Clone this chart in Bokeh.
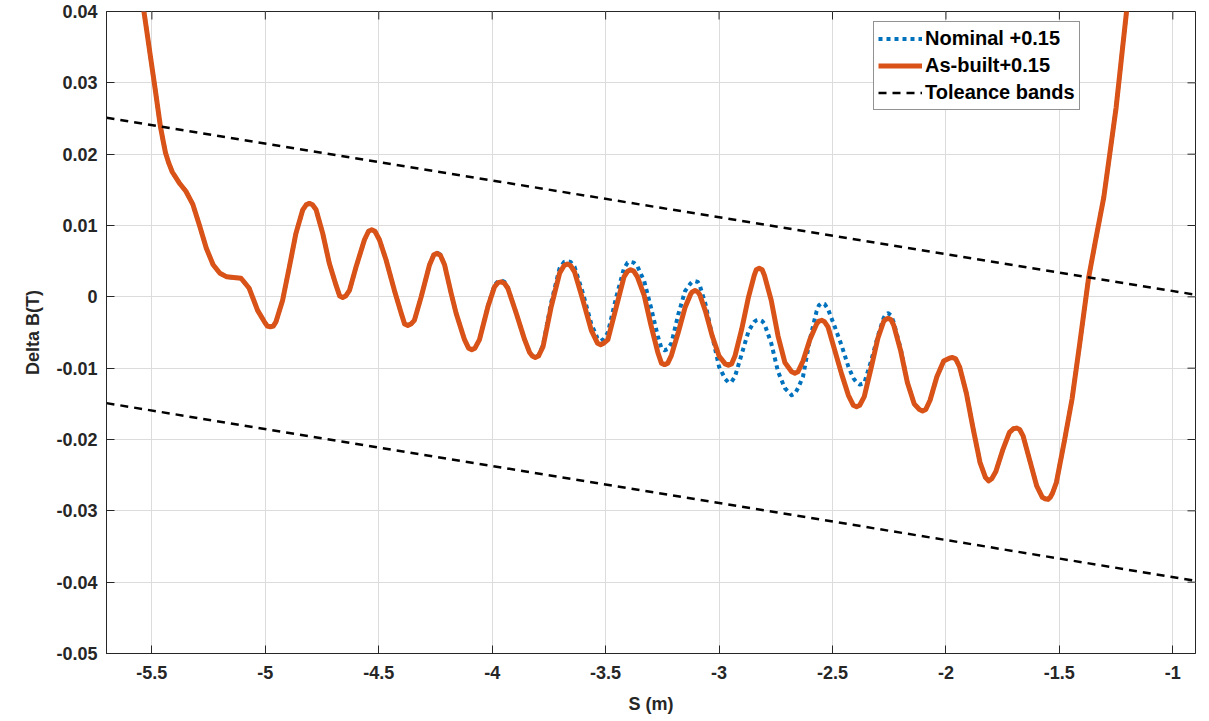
import math
from bokeh.plotting import figure
from bokeh.models import FixedTicker, Legend, LegendItem, CustomJSTickFormatter, Range1d
from bokeh.embed import file_html
from bokeh.resources import INLINE

# ---------------- data ----------------
s_m = [-5.560, -5.535, -5.510, -5.485, -5.462, -5.450, -5.440, -5.425, -5.410, -5.380,
       -5.350, -5.320, -5.290, -5.260, -5.230, -5.200, -5.170, -5.140, -5.107, -5.071,
       -5.034, -5.004, -4.991, -4.978, -4.965, -4.953, -4.924, -4.894, -4.865, -4.835,
       -4.820, -4.806, -4.792, -4.776, -4.747, -4.718, -4.688, -4.672, -4.659, -4.646,
       -4.629, -4.600, -4.563, -4.545, -4.531, -4.517, -4.497, -4.468, -4.431, -4.401,
       -4.386, -4.372, -4.358, -4.343, -4.313, -4.276, -4.257, -4.243, -4.228, -4.210,
       -4.181, -4.159, -4.122, -4.104, -4.090, -4.076, -4.056, -4.019, -3.990, -3.974,
       -3.960, -3.946, -3.931, -3.894, -3.857, -3.835, -3.823, -3.810, -3.796, -3.776,
       -3.740, -3.703, -3.683, -3.669, -3.655, -3.637, -3.600, -3.563, -3.536, -3.522,
       -3.508, -3.490, -3.453, -3.419, -3.403, -3.390, -3.376, -3.360, -3.330, -3.300,
       -3.270, -3.254, -3.240, -3.226, -3.210, -3.180, -3.150, -3.125, -3.118, -3.106,
       -3.094, -3.085, -3.060, -3.030, -3.000, -2.973, -2.959, -2.945, -2.930, -2.900,
       -2.870, -2.845, -2.836, -2.823, -2.810, -2.800, -2.770, -2.740, -2.710, -2.680,
       -2.666, -2.652, -2.630, -2.600, -2.570, -2.560, -2.548, -2.535, -2.520, -2.490,
       -2.460, -2.430, -2.408, -2.394, -2.380, -2.360, -2.330, -2.300, -2.275, -2.268,
       -2.255, -2.242, -2.230, -2.200, -2.170, -2.140, -2.117, -2.103, -2.089, -2.070,
       -2.040, -2.010, -1.985, -1.971, -1.957, -1.940, -1.910, -1.880, -1.850, -1.826,
       -1.812, -1.798, -1.780, -1.750, -1.720, -1.703, -1.689, -1.675, -1.660, -1.630,
       -1.600, -1.575, -1.563, -1.550, -1.540, -1.530, -1.513, -1.479, -1.444, -1.410,
       -1.371, -1.340, -1.304, -1.250, -1.204, -1.170]

asbuilt_T = [0.0470, 0.0400, 0.0345, 0.0290, 0.0238, 0.0218, 0.0202, 0.0187, 0.0175, 0.0160,
             0.0148, 0.0130, 0.0100, 0.0068, 0.0045, 0.0033, 0.0028, 0.0027, 0.0026, 0.0012,
             -0.0019, -0.0035, -0.0041, -0.0042, -0.0041, -0.0035, -0.0005, 0.0042, 0.0089, 0.0122,
             0.0129, 0.0131, 0.0129, 0.0122, 0.0089, 0.0047, 0.0016, 0.0001, -0.0001, 0.0001,
             0.0009, 0.0042, 0.0080, 0.0092, 0.0094, 0.0092, 0.0080, 0.0052, 0.0009, -0.0023,
             -0.0038, -0.0040, -0.0038, -0.0033, 0.0000, 0.0045, 0.0059, 0.0061, 0.0058, 0.0045,
             0.0005, -0.0023, -0.0060, -0.0072, -0.0074, -0.0072, -0.0060, -0.0014, 0.0014, 0.0020,
             0.0021, 0.0019, 0.0012, -0.0023, -0.0060, -0.0078, -0.0083, -0.0085, -0.0083, -0.0070,
             -0.0014, 0.0033, 0.0044, 0.0046, 0.0044, 0.0035, -0.0005, -0.0047, -0.0065, -0.0067,
             -0.0065, -0.0060, -0.0014, 0.0028, 0.0036, 0.0038, 0.0036, 0.0028, 0.0002, -0.0040,
             -0.0078, -0.0093, -0.0095, -0.0093, -0.0082, -0.0050, -0.0015, 0.0004, 0.0007, 0.0009,
             0.0007, 0.0003, -0.0020, -0.0055, -0.0083, -0.0094, -0.0096, -0.0094, -0.0083, -0.0045,
             0.0000, 0.0030, 0.0038, 0.0040, 0.0038, 0.0030, -0.0005, -0.0055, -0.0092, -0.0105,
             -0.0107, -0.0105, -0.0090, -0.0060, -0.0038, -0.0034, -0.0033, -0.0035, -0.0042, -0.0075,
             -0.0108, -0.0138, -0.0152, -0.0154, -0.0152, -0.0140, -0.0100, -0.0058, -0.0035, -0.0032,
             -0.0030, -0.0032, -0.0040, -0.0075, -0.0120, -0.0150, -0.0158, -0.0160, -0.0158, -0.0145,
             -0.0112, -0.0090, -0.0086, -0.0085, -0.0087, -0.0098, -0.0135, -0.0185, -0.0232, -0.0253,
             -0.0258, -0.0255, -0.0245, -0.0215, -0.0190, -0.0185, -0.0184, -0.0186, -0.0195, -0.0230,
             -0.0265, -0.0281, -0.0283, -0.0284, -0.0281, -0.0275, -0.0260, -0.0204, -0.0143, -0.0065,
             0.0027, 0.0080, 0.0140, 0.0265, 0.0400, 0.0490]

nominal_T = [0.0470, 0.0400, 0.0345, 0.0290, 0.0238, 0.0218, 0.0202, 0.0187, 0.0175, 0.0160,
             0.0148, 0.0130, 0.0100, 0.0068, 0.0045, 0.0033, 0.0028, 0.0027, 0.0026, 0.0012,
             -0.0019, -0.0035, -0.0041, -0.0042, -0.0041, -0.0035, -0.0005, 0.0042, 0.0089, 0.0122,
             0.0129, 0.0131, 0.0129, 0.0122, 0.0089, 0.0047, 0.0016, 0.0001, -0.0001, 0.0001,
             0.0009, 0.0042, 0.0080, 0.0092, 0.0094, 0.0092, 0.0080, 0.0052, 0.0009, -0.0023,
             -0.0038, -0.0040, -0.0038, -0.0033, 0.0000, 0.0045, 0.0060, 0.0062, 0.0059, 0.0045,
             0.0005, -0.0023, -0.0060, -0.0072, -0.0074, -0.0072, -0.0060, -0.0013, 0.0016, 0.0022,
             0.0023, 0.0021, 0.0013, -0.0023, -0.0060, -0.0078, -0.0083, -0.0085, -0.0082, -0.0068,
             -0.0008, 0.0040, 0.0049, 0.0050, 0.0049, 0.0042, 0.0005, -0.0038, -0.0058, -0.0062,
             -0.0059, -0.0050, 0.0000, 0.0040, 0.0048, 0.0049, 0.0048, 0.0043, 0.0022, -0.0015,
             -0.0055, -0.0072, -0.0075, -0.0073, -0.0065, -0.0025, 0.0008, 0.0019, 0.0021, 0.0022,
             0.0021, 0.0016, -0.0010, -0.0055, -0.0098, -0.0115, -0.0120, -0.0119, -0.0112, -0.0080,
             -0.0048, -0.0035, -0.0033, -0.0032, -0.0034, -0.0038, -0.0065, -0.0105, -0.0128, -0.0138,
             -0.0136, -0.0128, -0.0112, -0.0060, -0.0020, -0.0012, -0.0009, -0.0010, -0.0017, -0.0042,
             -0.0068, -0.0098, -0.0114, -0.0120, -0.0123, -0.0121, -0.0090, -0.0055, -0.0030, -0.0026,
             -0.0023, -0.0026, -0.0036, -0.0072, -0.0120, -0.0150, -0.0158, -0.0160, -0.0158, -0.0145,
             -0.0112, -0.0090, -0.0086, -0.0085, -0.0087, -0.0098, -0.0135, -0.0185, -0.0232, -0.0253,
             -0.0258, -0.0255, -0.0245, -0.0215, -0.0190, -0.0185, -0.0184, -0.0186, -0.0195, -0.0230,
             -0.0265, -0.0281, -0.0283, -0.0284, -0.0281, -0.0275, -0.0260, -0.0204, -0.0143, -0.0065,
             0.0027, 0.0080, 0.0140, 0.0265, 0.0400, 0.0490]

tol_s = [-5.70, -0.90]
tol_upper = [0.0251, 0.0003]
tol_lower = [-0.0149, -0.0398]

x_lim = [-5.70, -0.90]
y_lim = [-0.05, 0.04]
x_ticks = [-5.5, -5.0, -4.5, -4.0, -3.5, -3.0, -2.5, -2.0, -1.5, -1.0]
y_ticks = [-0.05, -0.04, -0.03, -0.02, -0.01, 0.0, 0.01, 0.02, 0.03, 0.04]

series_labels = ["Nominal +0.15", "As-built+0.15", "Toleance bands"]

# ---------------- figure ----------------
FONT = "Liberation Sans"
TXT = "#262626"

p = figure(width=1209, height=721, output_backend="svg", toolbar_location=None,
           x_range=Range1d(*x_lim), y_range=Range1d(*y_lim),
           min_border_left=106, min_border_right=14, min_border_top=11,
           min_border_bottom=68, background_fill_color="white",
           border_fill_color="white")
p.outline_line_color = TXT
p.outline_line_width = 1

fmt = CustomJSTickFormatter(code="return Number(tick.toFixed(2)).toString();")

for ax in (p.xaxis[0], p.yaxis[0]):
    ax.major_label_text_font = FONT
    ax.major_label_text_font_style = "bold"
    ax.major_label_text_font_size = "18px"
    ax.major_label_text_color = TXT
    ax.axis_label_text_font = FONT
    ax.axis_label_text_font_style = "bold"
    ax.axis_label_text_font_size = "18px"
    ax.axis_label_text_color = TXT
    ax.axis_line_color = TXT
    ax.major_tick_line_color = TXT
    ax.major_tick_in = 8
    ax.major_tick_out = 0
    ax.minor_tick_line_color = None
    ax.formatter = fmt

p.xaxis.ticker = FixedTicker(ticks=x_ticks)
p.yaxis.ticker = FixedTicker(ticks=y_ticks)
p.xaxis.axis_label = "S (m)"
p.yaxis.axis_label = "Delta B(T)"
p.xaxis.major_label_standoff = 12
p.yaxis.major_label_standoff = 9
p.xaxis.axis_label_standoff = 12
p.yaxis.axis_label_standoff = 10

p.xgrid.ticker = FixedTicker(ticks=x_ticks)
p.ygrid.ticker = FixedTicker(ticks=y_ticks)
p.grid.grid_line_color = "#dcdcdc"
p.grid.grid_line_width = 1

# box-style inward ticks on the top and right edges (no texts)
p.ray(x=x_ticks, y=[y_lim[1]] * len(x_ticks), length=8, length_units="screen",
      angle=-math.pi / 2, line_color=TXT, line_width=1)
p.ray(x=[x_lim[1]] * len(y_ticks), y=y_ticks, length=8, length_units="screen",
      angle=math.pi, line_color=TXT, line_width=1)

# ---------------- glyphs ----------------
r_nom = p.line(s_m, nominal_T, line_color="#0072BD", line_width=4, line_dash="4 4",
               line_join="round")
r_asb = p.line(s_m, asbuilt_T, line_color="#D95319", line_width=5, line_join="round")
r_up = p.line(tol_s, tol_upper, line_color="black", line_width=2.5, line_dash="8 6")
r_lo = p.line(tol_s, tol_lower, line_color="black", line_width=2.5, line_dash="8 6")

legend = Legend(items=[LegendItem(label=series_labels[0], renderers=[r_nom]),
                       LegendItem(label=series_labels[1], renderers=[r_asb]),
                       LegendItem(label=series_labels[2], renderers=[r_up])],
                location=(767, 543), margin=0, padding=4, spacing=2,
                glyph_width=44, glyph_height=25, label_height=25, label_standoff=3,
                label_text_font=FONT, label_text_font_style="bold",
                label_text_font_size="20px", label_text_color="black",
                border_line_color="#262626", border_line_width=1,
                background_fill_color="white", background_fill_alpha=1.0)
p.add_layout(legend, "center")

open("out.html", "w").write(file_html(p, INLINE))
